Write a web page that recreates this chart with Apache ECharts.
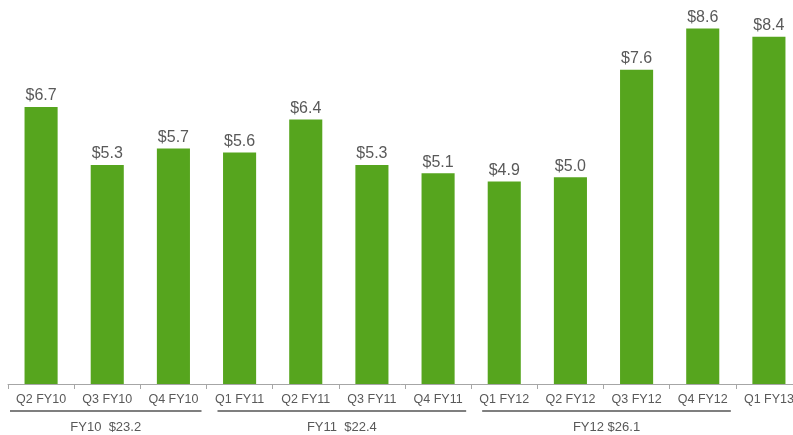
<!DOCTYPE html>
<html>
<head>
<meta charset="utf-8">
<script src="https://cdn.jsdelivr.net/npm/echarts@6/dist/echarts.min.js"></script>
<style>
html,body{margin:0;padding:0;background:#fff}
#chart{width:793px;height:435px}
</style>
</head>
<body>
<div id="chart"></div>
<script>
const quarters=['Q2 FY10','Q3 FY10','Q4 FY10','Q1 FY11','Q2 FY11','Q3 FY11','Q4 FY11','Q1 FY12','Q2 FY12','Q3 FY12','Q4 FY12','Q1 FY13'];
const revenue=[6.7,5.3,5.7,5.6,6.4,5.3,5.1,4.9,5.0,7.6,8.6,8.4];
const groupNames=['FY10  $23.2','FY11  $22.4','FY12 $26.1'];
const groupFrom=[0,3,7];
const groupTo=[2,6,10];

var c=echarts.init(document.getElementById('chart'));
c.setOption({
 animation:false,
 grid:{left:8,top:12,width:794,height:372,outerBoundsMode:'none',containLabel:false},
 xAxis:{type:'category',data:quarters,
  axisLine:{lineStyle:{color:'#a6a6a6',width:1}},
  axisTick:{show:true,length:5,lineStyle:{color:'#a6a6a6'}},
  axisLabel:{color:'#595959',fontSize:12.5,fontFamily:'Liberation Sans',margin:9,interval:0,hideOverlap:false}},
 yAxis:{type:'value',min:0,max:9,show:false,splitLine:{show:false}},
 series:[{type:'bar',data:revenue,barWidth:'50%',
  itemStyle:{color:'#56a51e'},
  label:{show:true,position:'top',distance:3,color:'#595959',fontSize:16,fontFamily:'Liberation Sans',
   formatter:p=>'$'+p.value.toFixed(1)}}]
});

// group brackets under the axis, placed from the category scale
function drawGroups(){
 let half=c.convertToPixel({xAxisIndex:0},1)-c.convertToPixel({xAxisIndex:0},0);
 half=half/2;
 let els=[];
 groupNames.forEach((name,i)=>{
  let x1=c.convertToPixel({xAxisIndex:0},groupFrom[i])-half+(i==0?2:11);
  let x2=c.convertToPixel({xAxisIndex:0},groupTo[i])+half-5;
  els.push({type:'line',shape:{x1:x1,y1:411,x2:x2,y2:411},style:{stroke:'#7f7f7f',lineWidth:2}});
  els.push({type:'text',x:(x1+x2)/2,y:427,style:{text:name,fill:'#595959',fontSize:13,fontFamily:'Liberation Sans',align:'center',verticalAlign:'middle'}});
 });
 c.setOption({graphic:els});
}
drawGroups();
</script>
</body>
</html>
